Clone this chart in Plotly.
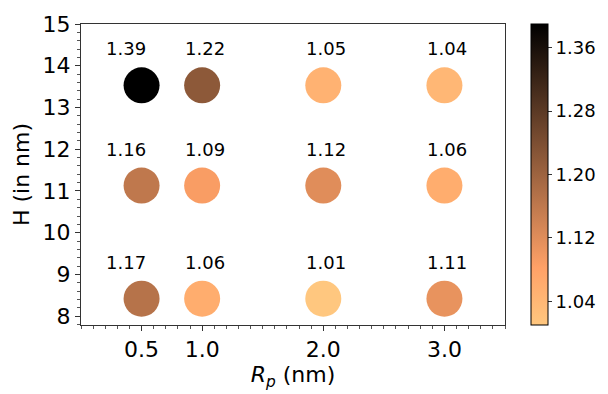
import plotly.graph_objects as go

# Grid of simulated systems: pore radius vs. film height, coloured by ratio
rp_values = [0.5, 1.0, 2.0, 3.0]
h_values = [13.53, 11.13, 8.42]
ratios = [
    [1.39, 1.22, 1.05, 1.04],  # H = 13.53
    [1.16, 1.09, 1.12, 1.06],  # H = 11.13
    [1.17, 1.06, 1.01, 1.11],  # H = 8.42
]
x_ticks = [0.5, 1.0, 2.0, 3.0]
x_tick_labels = ["0.5", "1.0", "2.0", "3.0"]
cbar_ticks = [1.04, 1.12, 1.20, 1.28, 1.36]

xs, ys, cs = [], [], []
for h, row in zip(h_values, ratios):
    for rp, r in zip(rp_values, row):
        xs.append(rp)
        ys.append(h)
        cs.append(r)

cmin, cmax = min(cs), max(cs)

# reversed "copper" colour map (light orange -> black)
copper_r = [
    [0.0, "rgb(255,199,127)"],
    [0.190476, "rgb(255,161,103)"],
    [1.0, "rgb(0,0,0)"],
]

FONT = "DejaVu Sans"

fig = go.Figure()
fig.add_trace(go.Scatter(
    x=xs, y=ys, mode="markers",
    marker=dict(
        size=36, color=cs, colorscale=copper_r, cmin=cmin, cmax=cmax,
        line=dict(width=0),
        colorbar=dict(
            x=(538 - 81) / 431, xanchor="left", xpad=0,
            y=0.5, yanchor="middle", len=1.0, lenmode="fraction", ypad=0,
            thickness=17, thicknessmode="pixels",
            outlinewidth=1, outlinecolor="#000",
            tickmode="array", tickvals=cbar_ticks,
            ticktext=[f"{v:.2f}" for v in cbar_ticks],
            ticks="outside", ticklen=4, tickcolor="#333",
            tickfont=dict(family=FONT, size=18, color="#000"),
        ),
    ),
    hoverinfo="skip", showlegend=False,
))

# value labels above each marker
for x, y, c in zip(xs, ys, cs):
    off = 0.3 if x == 0.5 else 0.15
    fig.add_annotation(
        x=x - off, y=y + 0.6, text=f"{c:.2f}", showarrow=False,
        xanchor="left", yanchor="bottom", borderpad=0,
        font=dict(family=FONT, size=18, color="#000"),
    )

fig.update_layout(
    width=608, height=394,
    margin=dict(l=81, r=96, t=15, b=62),
    paper_bgcolor="white", plot_bgcolor="white",
    font=dict(family=FONT, color="#000"),
)
fig.update_xaxes(
    range=[0, 3.5], tickmode="array", tickvals=x_ticks, ticktext=x_tick_labels,
    showgrid=False, zeroline=False, showline=True, linecolor="#333", linewidth=1,
    mirror=True, ticks="outside", ticklen=5, tickcolor="#333",
    tickfont=dict(family=FONT, size=22),
    minor=dict(dtick=0.1, ticks="outside", ticklen=3, tickcolor="#555"),
    title=dict(text="<i>R</i><sub><i>p</i></sub> (nm)", font=dict(family=FONT, size=22), standoff=4),
)
fig.update_yaxes(
    range=[7.79, 15], dtick=1, tick0=0,
    showgrid=False, zeroline=False, showline=True, linecolor="#333", linewidth=1,
    mirror=True, ticks="outside", ticklen=5, tickcolor="#333",
    tickfont=dict(family=FONT, size=22),
    minor=dict(dtick=0.2, ticks="outside", ticklen=3, tickcolor="#555"),
    title=dict(text="H (in nm)", font=dict(family=FONT, size=22), standoff=6),
)

fig.write_html("out.html")
